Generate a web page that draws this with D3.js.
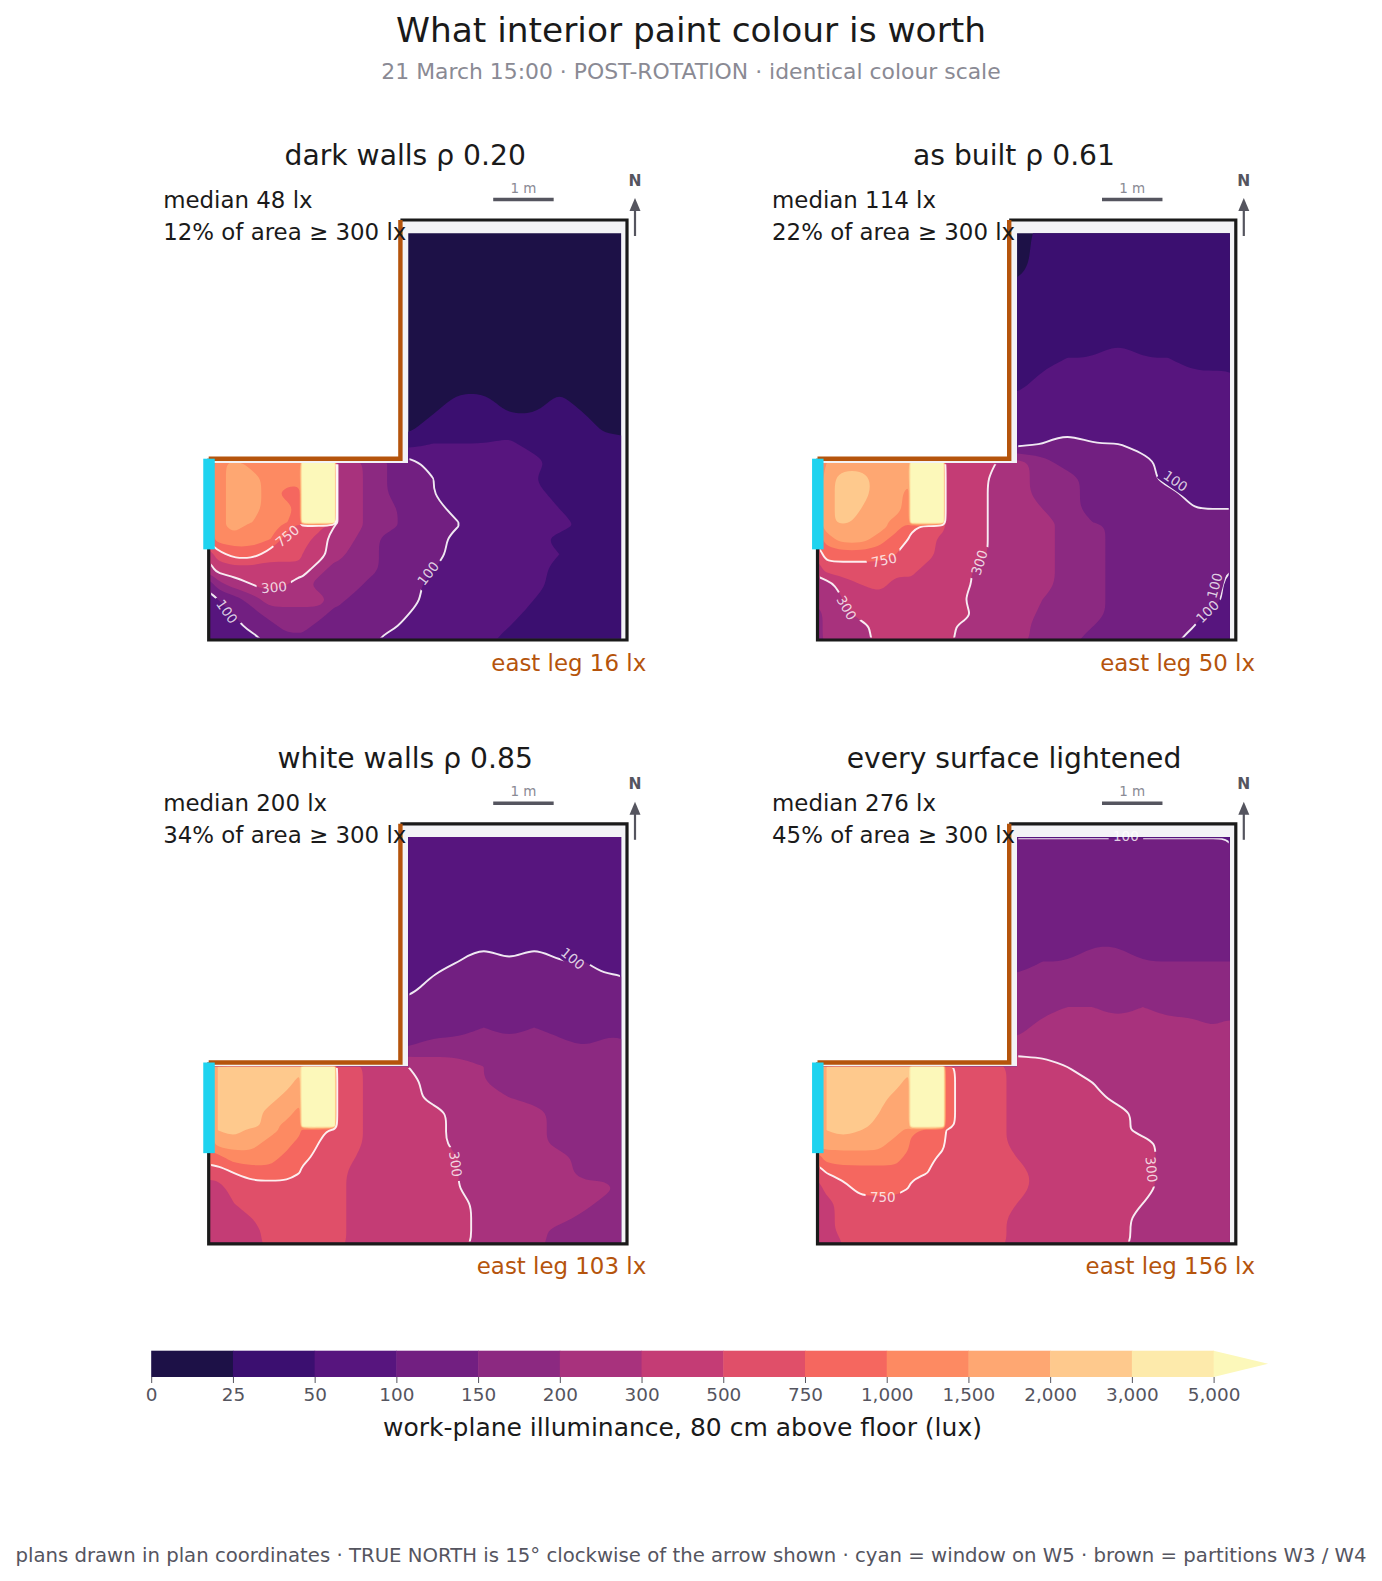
<!DOCTYPE html>
<html>
<head>
<meta charset="utf-8">
<script src="https://cdn.jsdelivr.net/npm/d3@7"></script>
<style>
  body { margin: 0; background: #fff; }
  text { font-family: "DejaVu Sans", sans-serif; }
</style>
</head>
<body>
<svg id="chart" width="1382" height="1581"></svg>
<script>
// colour levels (lux) and band colours
const levels = [0, 25, 50, 100, 150, 200, 300, 500, 750, 1000, 1500, 2000, 3000, 5000];
const bandColours = ["#1d1147", "#3b0f70", "#57157e", "#721f81", "#8c2981", "#a8327d", "#c43c75", "#e04f69", "#f5675f", "#fd8a62", "#fea772", "#fec98d", "#fdeaab", "#fcf8ba"];
const lineLevels = [100, 300, 750];

// sample points in plan metres (x eastwards, y northwards, rows run north to south)
const gridX = [0.02, 0.15, 0.42, 0.72, 1.02, 1.30, 1.50, 1.55, 1.82, 2.08, 2.13, 2.42, 2.68, 2.95, 3.30, 3.72, 4.13, 4.55, 4.97, 5.38, 5.80, 6.22, 6.55, 6.82];
const gridY = [6.73, 6.22, 5.70, 5.18, 4.67, 4.25, 3.92, 3.58, 3.25, 2.93, 2.67, 2.42, 2.17, 1.95, 1.88, 1.67, 1.42, 1.17, 0.92, 0.67, 0.42, 0.22, 0.02];

// lux per sample, short rows only cover the east leg
const darkLux = [
  [12,12,12,12,12,12,12,12,12,12],
  [12,12,12,12,12,12,12,12,12,12],
  [12,12,12,12,12,12,12,12,12,12],
  [12,12,12,12,12,12,12,12,12,12],
  [12,12,12,12,12,12,12,12,12,12],
  [12,12,12,12,12,12,12,12,12,12],
  [12,12,37,37,12,12,37,12,12,12],
  [12,37,37,37,37,37,37,37,12,12],
  [37,50,50,50,60,37,37,37,37,37],
  [875,1250,1750,1250,1250,1250,1250,6000,6000,6000,300,250,175,150,125,75,75,75,75,75,37,37,37,37],
  [875,1250,1750,1750,1250,1250,1250,6000,6000,6000,300,250,175,150,125,100,75,75,75,50,37,37,37,37],
  [875,1250,1750,1750,1250,875,875,6000,6000,6000,300,250,175,150,125,100,75,75,75,75,37,37,37,37],
  [875,1250,1750,1750,1250,1250,875,6000,6000,6000,300,250,175,175,125,125,75,75,75,75,50,37,37,37],
  [875,1250,1750,1500,1250,1000,875,6000,6000,6000,300,250,175,175,125,125,100,75,75,75,75,37,37,37],
  [875,1250,1750,1250,1250,875,625,625,625,300,250,250,175,175,125,125,100,75,75,75,75,37,37,37],
  [875,1250,1250,1250,1000,625,625,625,400,250,250,200,175,125,125,125,75,75,75,75,37,37,37,37],
  [400,625,875,875,625,625,625,500,400,250,250,175,175,125,125,125,75,75,75,75,50,37,37,37],
  [250,400,400,400,400,400,400,400,250,175,175,175,175,125,125,100,75,75,75,75,37,37,37,37],
  [125,175,250,300,400,300,250,250,175,175,175,175,125,125,125,75,75,75,75,75,37,37,37,37],
  [75,100,125,175,250,250,250,250,250,175,175,125,125,125,125,75,75,75,75,50,37,37,37,37],
  [75,75,100,125,175,175,175,175,175,125,125,125,125,125,100,75,75,75,75,37,37,37,37,37],
  [75,75,75,125,125,175,175,175,125,125,125,125,125,125,75,75,75,75,50,37,37,37,37,37],
  [75,75,75,75,125,125,125,125,125,125,125,125,125,75,75,75,75,75,37,37,37,37,37,37]
];
const builtLux = [
  [12,37,37,37,37,37,37,37,37,37],
  [12,37,37,37,37,37,37,37,37,37],
  [37,37,37,37,37,37,37,37,37,37],
  [37,37,37,37,37,37,37,37,37,37],
  [37,37,50,50,75,50,50,37,37,37],
  [37,75,75,75,75,75,75,75,75,75],
  [75,75,75,75,75,75,75,75,75,75],
  [75,75,75,75,75,75,75,75,75,75],
  [75,100,125,100,100,75,75,75,75,75],
  [1250,1500,1750,1750,1750,1750,1750,6000,6000,6000,400,400,400,300,250,175,125,125,125,125,75,75,75,75],
  [1250,1750,2500,2500,1750,1750,1750,6000,6000,6000,400,400,400,250,250,175,175,125,125,125,75,75,75,75],
  [1250,1750,2500,2500,1750,1750,1250,6000,6000,6000,400,400,400,250,250,175,175,125,125,125,125,75,75,75],
  [1250,1750,2500,2000,1750,1750,1250,6000,6000,6000,400,400,400,250,250,200,175,125,125,125,125,100,100,100],
  [1250,1750,2500,1750,1750,1250,1250,6000,6000,6000,400,400,400,250,250,250,175,150,125,125,125,125,125,125],
  [1250,1750,1750,1750,1750,1250,875,875,625,625,400,400,400,250,250,250,175,175,125,125,125,125,125,125],
  [875,1250,1750,1750,1250,875,750,625,625,400,400,400,400,250,250,250,175,175,125,125,125,125,125,125],
  [625,875,875,875,875,750,625,625,625,400,400,400,400,250,250,250,175,175,125,125,125,125,125,125],
  [400,625,625,625,625,625,625,625,400,400,400,400,250,250,250,250,175,175,125,125,125,125,125,100],
  [250,250,400,500,625,400,400,400,400,400,400,400,250,250,250,250,175,175,125,125,125,125,125,75],
  [250,250,300,400,400,400,400,400,400,400,400,300,250,250,250,200,175,175,125,125,125,125,125,75],
  [175,250,250,400,400,400,400,400,400,400,400,400,250,250,250,190,175,175,125,125,125,125,75,75],
  [175,250,250,250,400,400,400,400,400,400,400,250,250,250,250,175,175,150,125,125,125,100,75,75],
  [175,250,250,250,400,400,400,400,400,400,400,250,250,250,250,175,175,125,125,125,125,75,75,75]
];
const whiteLux = [
  [75,75,75,75,75,75,75,75,75,75],
  [75,75,75,75,75,75,75,75,75,75],
  [75,75,75,75,75,75,75,75,75,75],
  [75,75,75,75,75,75,75,75,75,75],
  [75,75,100,125,100,125,100,100,75,75],
  [75,125,125,125,125,125,125,125,125,125],
  [125,125,125,125,125,125,125,125,125,125],
  [125,125,125,150,125,150,125,125,125,125],
  [150,175,175,175,175,175,175,150,175,175],
  [1250,2000,2500,2500,2500,2500,2500,6000,6000,6000,625,625,400,400,300,250,250,200,175,175,175,175,175,175],
  [1250,2000,2500,2500,2500,2500,1750,6000,6000,6000,625,625,400,400,400,250,250,200,175,175,175,175,175,175],
  [1250,2000,2500,2500,2500,1750,1750,6000,6000,6000,625,625,400,400,400,250,250,250,200,175,175,175,175,175],
  [1250,2000,2500,2500,1750,1750,1250,6000,6000,6000,625,625,400,400,400,400,250,250,250,250,175,175,175,175],
  [1250,2000,2500,2500,1750,1250,1250,6000,6000,6000,625,625,400,400,400,400,250,250,250,250,175,175,175,175],
  [1250,2000,2500,1750,1750,1250,1250,875,875,625,625,625,400,400,400,400,250,250,250,250,175,175,175,175],
  [1250,1750,1750,1750,1250,1250,875,875,750,625,625,625,400,400,400,400,250,250,250,250,175,175,175,175],
  [875,875,1250,1250,1250,875,875,875,625,625,625,500,400,400,400,400,300,250,250,250,250,175,175,175],
  [625,625,750,875,875,875,750,625,625,625,625,400,400,400,400,400,300,250,250,250,250,175,175,175],
  [400,400,625,625,625,625,625,625,625,625,625,400,400,400,400,400,300,250,250,250,250,250,250,175],
  [400,400,500,625,625,625,625,625,625,625,625,400,400,400,400,400,400,250,250,250,250,250,175,175],
  [400,400,400,500,625,625,625,625,625,625,625,400,400,400,400,400,400,250,250,250,250,175,175,175],
  [400,400,400,400,625,625,625,625,625,625,625,400,400,400,400,400,400,250,250,250,175,175,175,175],
  [400,400,400,400,625,625,625,625,625,625,625,400,400,400,400,400,400,250,250,250,175,175,175,175]
];
const lightLux = [
  [99,99,99,99,99,99,99,99,99,99],
  [125,125,125,125,125,125,125,125,125,125],
  [125,125,125,125,125,125,125,125,125,125],
  [125,125,125,125,125,125,125,125,125,125],
  [125,150,150,175,175,150,150,150,150,150],
  [175,175,175,175,175,175,175,175,175,175],
  [175,175,200,200,175,200,175,175,175,175],
  [175,250,250,250,250,250,250,250,200,250],
  [250,250,250,250,250,250,250,250,250,250],
  [1750,2000,2500,2500,2500,2500,2500,6000,6000,6000,875,625,625,625,400,400,300,250,250,250,250,250,250,250],
  [1750,2000,2500,2500,2500,2500,1750,6000,6000,6000,875,625,625,625,400,400,400,300,250,250,250,250,250,250],
  [1750,2000,2500,2500,2500,1750,1750,6000,6000,6000,875,625,625,625,400,400,400,400,250,250,250,250,250,250],
  [1750,2000,2500,2500,2000,1750,1750,6000,6000,6000,875,625,625,625,400,400,400,400,400,250,250,250,250,250],
  [1750,2000,2500,2500,1750,1750,1750,6000,6000,6000,875,625,625,625,400,400,400,400,400,250,250,250,250,250],
  [1750,2000,2500,2000,1750,1750,1250,1250,875,875,750,625,625,625,400,400,400,400,400,250,250,250,250,250],
  [1750,1750,1750,1750,1750,1250,1250,875,875,875,625,625,625,625,400,400,400,400,400,400,250,250,250,250],
  [875,1250,1250,1250,1250,1250,875,875,875,625,625,625,625,625,500,400,400,400,400,400,250,250,250,250],
  [625,750,875,875,875,875,875,875,750,625,625,625,625,625,625,400,400,400,400,400,250,250,250,250],
  [400,625,625,875,875,875,750,625,625,625,625,625,625,625,625,400,400,400,400,400,250,250,250,250],
  [400,400,625,625,625,625,625,625,625,625,625,625,625,625,500,400,400,400,400,300,250,250,250,250],
  [400,400,625,625,625,625,625,625,625,625,625,625,625,625,400,400,400,400,400,250,250,250,250,250],
  [400,400,625,625,625,625,625,625,625,625,625,625,625,625,400,400,400,400,400,250,250,250,250,250],
  [400,400,500,625,625,625,625,625,625,625,625,625,625,625,400,400,400,400,400,250,250,250,250,250]
];

// panel texts
const panelTitles = ["dark walls \u03c1 0.20", "as built \u03c1 0.61", "white walls \u03c1 0.85", "every surface lightened"];
const medians = [48, 114, 200, 276];
const areaShares = [12, 22, 34, 45];
const eastLegs = [16, 50, 103, 156];
const panelLux = [darkLux, builtLux, whiteLux, lightLux];

// contour label anchors: level, x m, y m, rotation
const contourLabels = [
  [[750, 1.30, 1.72, -40], [300, 1.08, 0.87, -5], [100, 0.30, 0.47, 55], [100, 3.63, 1.10, -52]],
  [[750, 1.10, 1.32, -12], [300, 2.68, 1.28, -72], [300, 0.48, 0.53, 60], [100, 5.92, 2.63, 35], [100, 6.57, 0.90, -75], [100, 6.45, 0.47, -45]],
  [[100, 6.02, 4.72, 40], [300, 4.08, 1.32, 82]],
  [[750, 1.08, 0.77, 0], [300, 5.52, 1.23, 85], [100, 5.10, 6.75, 0]]
];

const colourbarTicks = levels;

// page layout
const svg = d3.select("#chart");
const planW = 6.917, planH = 6.95;
const frameW = 418.3, frameH = 420;
const originX = 208.7, originY = 220;
const stepX = 608.8, stepY = 603.8;
const overrun = 0.3; // contour rings run past the clip so rounding stays hidden

const position = d3.scaleLinear().domain(levels).range(d3.range(levels.length));
const dark = "#1a1a1a", brown = "#b5540c", grey = "#55555f", cyan = "#1fd3ef";

const addText = (g, x, y, txt, size, fill, anchor = "start", weight = "normal") =>
  g.append("text").attr("x", x).attr("y", y).attr("font-size", size).attr("fill", fill)
    .attr("text-anchor", anchor).attr("font-weight", weight).text(txt);

addText(svg, 691, 41.5, "What interior paint colour is worth", 34.4, dark, "middle");
addText(svg, 691, 79, "21 March 15:00 \u00b7 POST-ROTATION \u00b7 identical colour scale", 21.9, "#8a8a94", "middle");

panelLux.forEach((rows, p) => {
  const left = originX + (p % 2) * stepX;
  const top = originY + Math.floor(p / 2) * stepY;
  const x = d3.scaleLinear().domain([0, planW]).range([left, left + frameW]);
  const y = d3.scaleLinear().domain([0, planH]).range([top + frameH, top]);
  const g = svg.append("g");

  // plan outline in metres
  const westEnd = gridX[0], eastEnd = gridX[gridX.length - 1];
  const northEnd = gridY[0], southEnd = gridY[gridY.length - 1];
  const legX = gridX[14], legY = gridY[9];
  const floorPath = (inset) => d3.line()([
    [x(legX) + inset, y(northEnd) + inset], [x(eastEnd) - inset, y(northEnd) + inset],
    [x(eastEnd) - inset, y(southEnd) - inset], [x(westEnd) + inset, y(southEnd) - inset],
    [x(westEnd) + inset, y(legY) + inset], [x(legX) + inset, y(legY) + inset]
  ]) + "Z";

  // grey floor under the field
  g.append("path")
    .attr("d", d3.line()([[x(3.17), y(planH)], [x(planW), y(planH)], [x(planW), y(0)], [x(0), y(0)], [x(0), y(3.02)], [x(3.17), y(3.02)]]) + "Z")
    .attr("fill", "#f3f3f6");

  const defs = g.append("defs");
  defs.append("clipPath").attr("id", "floor" + p).append("path").attr("d", floorPath(0));
  defs.append("clipPath").attr("id", "inner" + p).append("path").attr("d", floorPath(1.2));

  const mask = defs.append("mask").attr("id", "gaps" + p).attr("maskUnits", "userSpaceOnUse")
    .attr("x", 0).attr("y", 0).attr("width", 1382).attr("height", 1581);
  mask.append("rect").attr("width", 1382).attr("height", 1581).attr("fill", "#fff");

  // full grid, hidden north-west corner repeats the first east-leg value
  const nx = gridX.length, ny = gridY.length;
  const flat = rows.flatMap((r) => (r.length < nx ? Array(nx - r.length).fill(r[0]).concat(r) : r)).map(position);

  // non-uniform sample spacing, d3.contours puts sample i at i + 0.5
  const ix = d3.scaleLinear().domain([0, ...gridX.map((_, i) => i + 0.5), nx]).range([gridX[0] - overrun, ...gridX, gridX[nx - 1] + overrun]);
  const iy = d3.scaleLinear().domain([0, ...gridY.map((_, i) => i + 0.5), ny]).range([gridY[0] + overrun, ...gridY, gridY[ny - 1] - overrun]);
  const smooth = d3.line().curve(d3.curveBasisClosed);
  const path = (contour) => contour.coordinates.flat()
    .map((ring) => smooth(ring.slice(0, -1).map(([a, b]) => [x(ix(a)), y(iy(b))])))
    .join("");

  const bands = d3.contours().size([nx, ny]).thresholds(d3.range(levels.length))(flat);
  g.append("g").attr("clip-path", `url(#floor${p})`)
    .selectAll("path").data(bands).join("path")
    .attr("d", path)
    .attr("fill-rule", "evenodd")
    .attr("fill", (d, i) => bandColours[i]);

  const isolines = d3.contours().size([nx, ny]).thresholds(lineLevels.map(position))(flat);
  g.append("g").attr("clip-path", `url(#inner${p})`)
    .append("g").attr("mask", `url(#gaps${p})`)
    .selectAll("path").data(isolines).join("path")
    .attr("d", path)
    .attr("fill", "none")
    .attr("stroke", "#fff")
    .attr("stroke-opacity", 0.9)
    .attr("stroke-width", 1.9);

  contourLabels[p].forEach(([level, lx, ly, rot]) => {
    const t = `rotate(${rot} ${x(lx)} ${y(ly)})`;
    const w = String(level).length * 9.5 + 6;
    mask.append("rect").attr("x", x(lx) - w / 2).attr("y", y(ly) - 8).attr("width", w).attr("height", 16)
      .attr("fill", "#000").attr("transform", t);
    g.append("text").attr("x", x(lx)).attr("y", y(ly)).attr("dy", "0.35em")
      .attr("text-anchor", "middle").attr("font-size", 13.5).attr("fill", "#fff").attr("fill-opacity", 0.8)
      .attr("transform", t).text(level);
  });

  // walls
  g.append("path")
    .attr("d", d3.line()([[x(3.17), y(planH)], [x(planW), y(planH)], [x(planW), y(0)], [x(0), y(0)], [x(0), y(3.0)]]))
    .attr("fill", "none").attr("stroke", dark).attr("stroke-width", 3.2);
  g.append("path")
    .attr("d", d3.line()([[x(3.17), y(planH)], [x(3.17), y(3.0)], [x(0), y(3.0)]]))
    .attr("fill", "none").attr("stroke", brown).attr("stroke-width", 4.4);
  // window on W5
  g.append("rect").attr("x", x(-0.09)).attr("y", y(3.0)).attr("width", x(0.1) - x(-0.09)).attr("height", y(1.5) - y(3.0)).attr("fill", cyan);

  // panel texts
  addText(g, left + 196.5, top - 55.5, panelTitles[p], 28.2, dark, "middle");
  addText(g, left - 45.5, top - 12.5, `median ${medians[p]} lx`, 22.9, dark);
  addText(g, left - 45.5, top + 19.5, `${areaShares[p]}% of area \u2265 300 lx`, 22.9, dark);
  addText(g, left + 437.5, top + 450.5, `east leg ${eastLegs[p]} lx`, 22.9, brown, "end");

  // scale bar, 1 m long
  const barX = left + 284.5;
  g.append("line").attr("x1", barX).attr("x2", barX + (x(1) - x(0))).attr("y1", top - 20.5).attr("y2", top - 20.5)
    .attr("stroke", grey).attr("stroke-width", 3.6);
  addText(g, barX + (x(1) - x(0)) / 2, top - 27.5, "1 m", 13.5, "#8a8a94", "middle");

  // north arrow
  const nX = left + 426.3;
  addText(g, nX, top - 34.5, "N", 15.5, grey, "middle", "bold");
  g.append("line").attr("x1", nX).attr("x2", nX).attr("y1", top + 16).attr("y2", top - 12).attr("stroke", grey).attr("stroke-width", 2.2);
  g.append("path").attr("d", d3.line()([[nX, top - 22], [nX - 5.5, top - 9], [nX + 5.5, top - 9]]) + "Z").attr("fill", grey);
});

// colour bar
const barLeft = 151.2, barRight = 1213.6, barTop = 1350.7, barBottom = 1377;
const barScale = d3.scalePoint().domain(colourbarTicks).range([barLeft, barRight]);
const bar = svg.append("g");
bar.selectAll("rect").data(colourbarTicks.slice(0, -1)).join("rect")
  .attr("x", (d) => barScale(d))
  .attr("y", barTop)
  .attr("width", barScale.step() + 0.5)
  .attr("height", barBottom - barTop)
  .attr("fill", (d, i) => bandColours[i]);
bar.append("path")
  .attr("d", d3.line()([[barRight, barTop], [barRight + 54.5, (barTop + barBottom) / 2], [barRight, barBottom]]) + "Z")
  .attr("fill", bandColours[13]);

const axis = d3.axisBottom(barScale).tickSize(6).tickPadding(5).tickFormat(d3.format(","));
const axisG = svg.append("g").attr("transform", `translate(0,${barBottom})`).call(axis);
axisG.select(".domain").remove();
axisG.selectAll("line").attr("stroke", "#55555f").attr("stroke-width", 1);
axisG.selectAll("text").attr("fill", "#55555f").attr("font-size", 18.4).attr("font-family", "DejaVu Sans");

addText(svg, 682.5, 1435.5, "work-plane illuminance, 80 cm above floor (lux)", 25, dark, "middle");
addText(svg, 691, 1562, "plans drawn in plan coordinates \u00b7 TRUE NORTH is 15\u00b0 clockwise of the arrow shown \u00b7 cyan = window on W5 \u00b7 brown = partitions W3 / W4", 19.7, "#55555f", "middle");
</script>
</body>
</html>
